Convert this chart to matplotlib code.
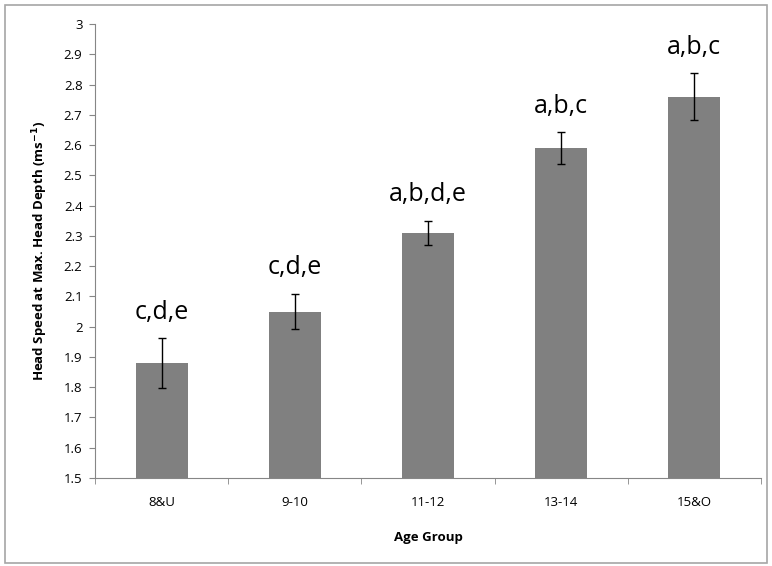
import matplotlib.pyplot as plt
import numpy as np

groups = ["8&U", "9-10", "11-12", "13-14", "15&O"]
speed = [1.88, 2.05, 2.31, 2.59, 2.76]
err = [0.082, 0.058, 0.04, 0.052, 0.077]
letters = ["c,d,e", "c,d,e", "a,b,d,e", "a,b,c", "a,b,c"]

plt.rcParams['font.family'] = ['Open Sans', 'DejaVu Sans']

fig = plt.figure(figsize=(7.72, 5.66), dpi=100)
ax = fig.add_axes([95/772, 1 - 478/566, (761-95)/772, (478-24)/566])

# chart border like excel
fig.patches.append(plt.Rectangle((5/772, 3/566), 762/772, 558/566, transform=fig.transFigure,
                                 fill=False, edgecolor="#a6a6a6", linewidth=1.2))

x = np.arange(len(groups))
ax.bar(x, np.array(speed) - 1.5, bottom=1.5, width=0.39, color="#808080")
ax.errorbar(x, speed, yerr=err, fmt="none", ecolor="black", elinewidth=1, capsize=3, capthick=1)

for i in range(len(groups)):
    ax.text(x[i], speed[i] + err[i] + 0.045, letters[i], ha="center", va="bottom", fontsize=18)

ax.set_xlim(-0.5, len(groups) - 0.5)
ax.set_ylim(1.5, 3)
ax.set_yticks(np.arange(1.5, 3.01, 0.1))
ax.set_yticklabels(["%g" % round(v, 1) for v in np.arange(1.5, 3.01, 0.1)])
ax.set_xticks(x)
ax.set_xticklabels(groups)
ax.set_xticks(np.arange(-0.5, len(groups)), minor=True)
ax.tick_params(axis="x", which="major", length=0, pad=13, labelsize=9.5)
ax.tick_params(axis="x", which="minor", length=4, color="#868686")
ax.tick_params(axis="y", length=4, color="#868686", labelsize=9.5, pad=5)

for s in ["top", "right"]:
    ax.spines[s].set_visible(False)
for s in ["left", "bottom"]:
    ax.spines[s].set_color("#868686")

ax.set_ylabel("Head Speed at Max. Head Depth (ms$^{\\mathbf{-1}}$)", fontsize=9.5, fontweight="bold", labelpad=10)
ax.set_xlabel("Age Group", fontsize=9.5, fontweight="bold", labelpad=16)

fig.savefig("out.png", dpi=100)
